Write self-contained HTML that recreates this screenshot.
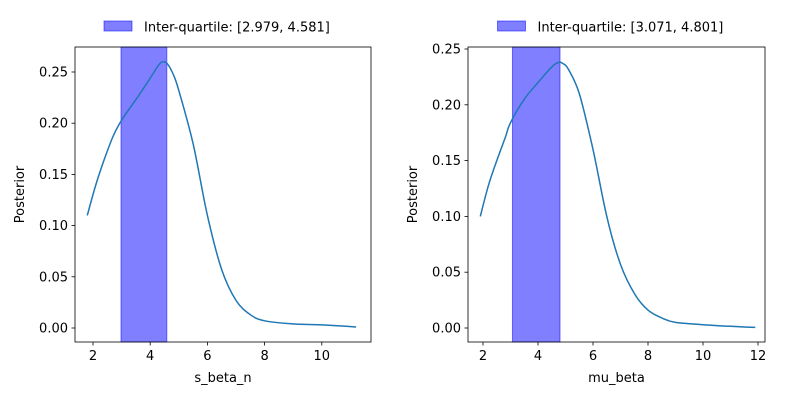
<!DOCTYPE html>
<html><head><meta charset="utf-8"><style>
body{margin:0;background:#fff;font-family:"Liberation Sans",sans-serif}
svg text{font-family:"DejaVu Sans","Liberation Sans",sans-serif;font-size:13px;fill:#000}
</style></head><body>
<svg id="c" width="800" height="400"></svg>
<script>
const xTicksL=[2,4,6,8,10];
const yTicksL=[0,0.05,0.10,0.15,0.20,0.25];
const curveXL=[1.8,2.1,2.4,2.7,3,3.5,4,4.3,4.45,4.6,4.8,5,5.5,6,6.5,7,7.5,8,9,10,11.2];
const curveYL=[0.11,0.14,0.165,0.187,0.203,0.223,0.244,0.257,0.26,0.258,0.248,0.232,0.18,0.11,0.057,0.027,0.013,0.007,0.004,0.003,0.001];
const iqrL=[2.979,4.581];
const xTicksR=[2,4,6,8,10,12];
const yTicksR=[0,0.05,0.10,0.15,0.20,0.25];
const curveXR=[1.9,2.2,2.5,2.8,3,3.5,4,4.5,4.75,4.9,5.1,5.5,6,6.5,7,7.5,8,8.5,9,10,11,11.9];
const curveYR=[0.1,0.128,0.15,0.17,0.184,0.205,0.22,0.234,0.238,0.237,0.232,0.21,0.16,0.1,0.057,0.031,0.016,0.009,0.005,0.003,0.0015,0.0005];
const iqrR=[3.071,4.801];
const NS='http://www.w3.org/2000/svg',svg=document.getElementById('c');
function el(t,a,p){const e=document.createElementNS(NS,t);for(const k in a)e.setAttribute(k,a[k]);(p||svg).appendChild(e);return e;}
function smooth(P){let d='M'+P[0][0].toFixed(1)+','+P[0][1].toFixed(1);
 for(let i=0;i<P.length-1;i++){const p0=P[Math.max(i-1,0)],p1=P[i],p2=P[i+1],p3=P[Math.min(i+2,P.length-1)];
  const c1=[p1[0]+(p2[0]-p0[0])/6,p1[1]+(p2[1]-p0[1])/6],c2=[p2[0]-(p3[0]-p1[0])/6,p2[1]-(p3[1]-p1[1])/6];
  d+='C'+c1.map(v=>v.toFixed(1))+' '+c2.map(v=>v.toFixed(1))+' '+p2.map(v=>v.toFixed(1));}
 return d;}
function panel(cfg){
 const {L,R,T,B,x0,x1,y0,y1,xt,yt,cx,cy,iqr,xl,name}=cfg;
 const g=el('g',{});
 
 
 const sx=v=>L+(v-x0)/(x1-x0)*(R-L), sy=v=>B-(v-y0)/(y1-y0)*(B-T);
 const band=el('rect',{x:sx(iqr[0]),y:T,width:sx(iqr[1])-sx(iqr[0]),height:B-T,fill:'#0000ff','fill-opacity':0.5,stroke:'#0000ff','stroke-opacity':0.5},g);
 
 
 const line=el('path',{d:smooth(cx.map((v,i)=>[sx(v),sy(cy[i])])),fill:'none',stroke:'#1f77b4','stroke-width':1.5,'stroke-linejoin':'round'},g);
 
 
 el('rect',{x:L,y:T,width:R-L,height:B-T,fill:'none',stroke:'#000','stroke-width':0.8},g);
 xt.forEach(v=>{const x=sx(v);el('line',{x1:x,x2:x,y1:B,y2:B+3.5,stroke:'#000','stroke-width':0.8},g);
  const t=el('text',{x:x,y:B+18,'text-anchor':'middle'},g);t.textContent=v;
  });
 yt.forEach(v=>{const y=sy(v);el('line',{x1:L,x2:L-3.5,y1:y,y2:y,stroke:'#000','stroke-width':0.8},g);
  const t=el('text',{x:L-7,y:y+4.5,'text-anchor':'end'},g);t.textContent=v.toFixed(2);
  });
 const xlab=el('text',{x:(L+R)/2,y:B+40,'text-anchor':'middle'},g);xlab.textContent=xl;
 
 const ylab=el('text',{x:0,y:0,'text-anchor':'middle',transform:`translate(${L-51},${(T+B)/2}) rotate(-90)`},g);ylab.textContent='Posterior';
 
 const lg=el('g',{},g);
 
 const cxm=(L+R)/2-119;
 el('rect',{x:cxm,y:21,width:28,height:10,fill:'#0000ff','fill-opacity':0.5,stroke:'#0000ff','stroke-opacity':0.5},lg);
 const lt=el('text',{x:cxm+40,y:31.5},lg);lt.textContent=`Inter-quartile: [${iqr[0].toFixed(3)}, ${iqr[1].toFixed(3)}]`;
}
panel({L:75,R:371,T:47,B:342,x0:2-18/28.6,x1:2+(371-93)/28.6,y0:-(342-328)/1024,y1:(328-47)/1024,xt:xTicksL,yt:yTicksL,cx:curveXL,cy:curveYL,iqr:iqrL,xl:'s_beta_n',name:'left-panel'});
panel({L:468,R:765,T:47,B:342,x0:2-15/27.5,x1:2+(765-483)/27.5,y0:-(342-328)/1116,y1:(328-47)/1116,xt:xTicksR,yt:yTicksR,cx:curveXR,cy:curveYR,iqr:iqrR,xl:'mu_beta',name:'right-panel'});
</script>
</body></html>
